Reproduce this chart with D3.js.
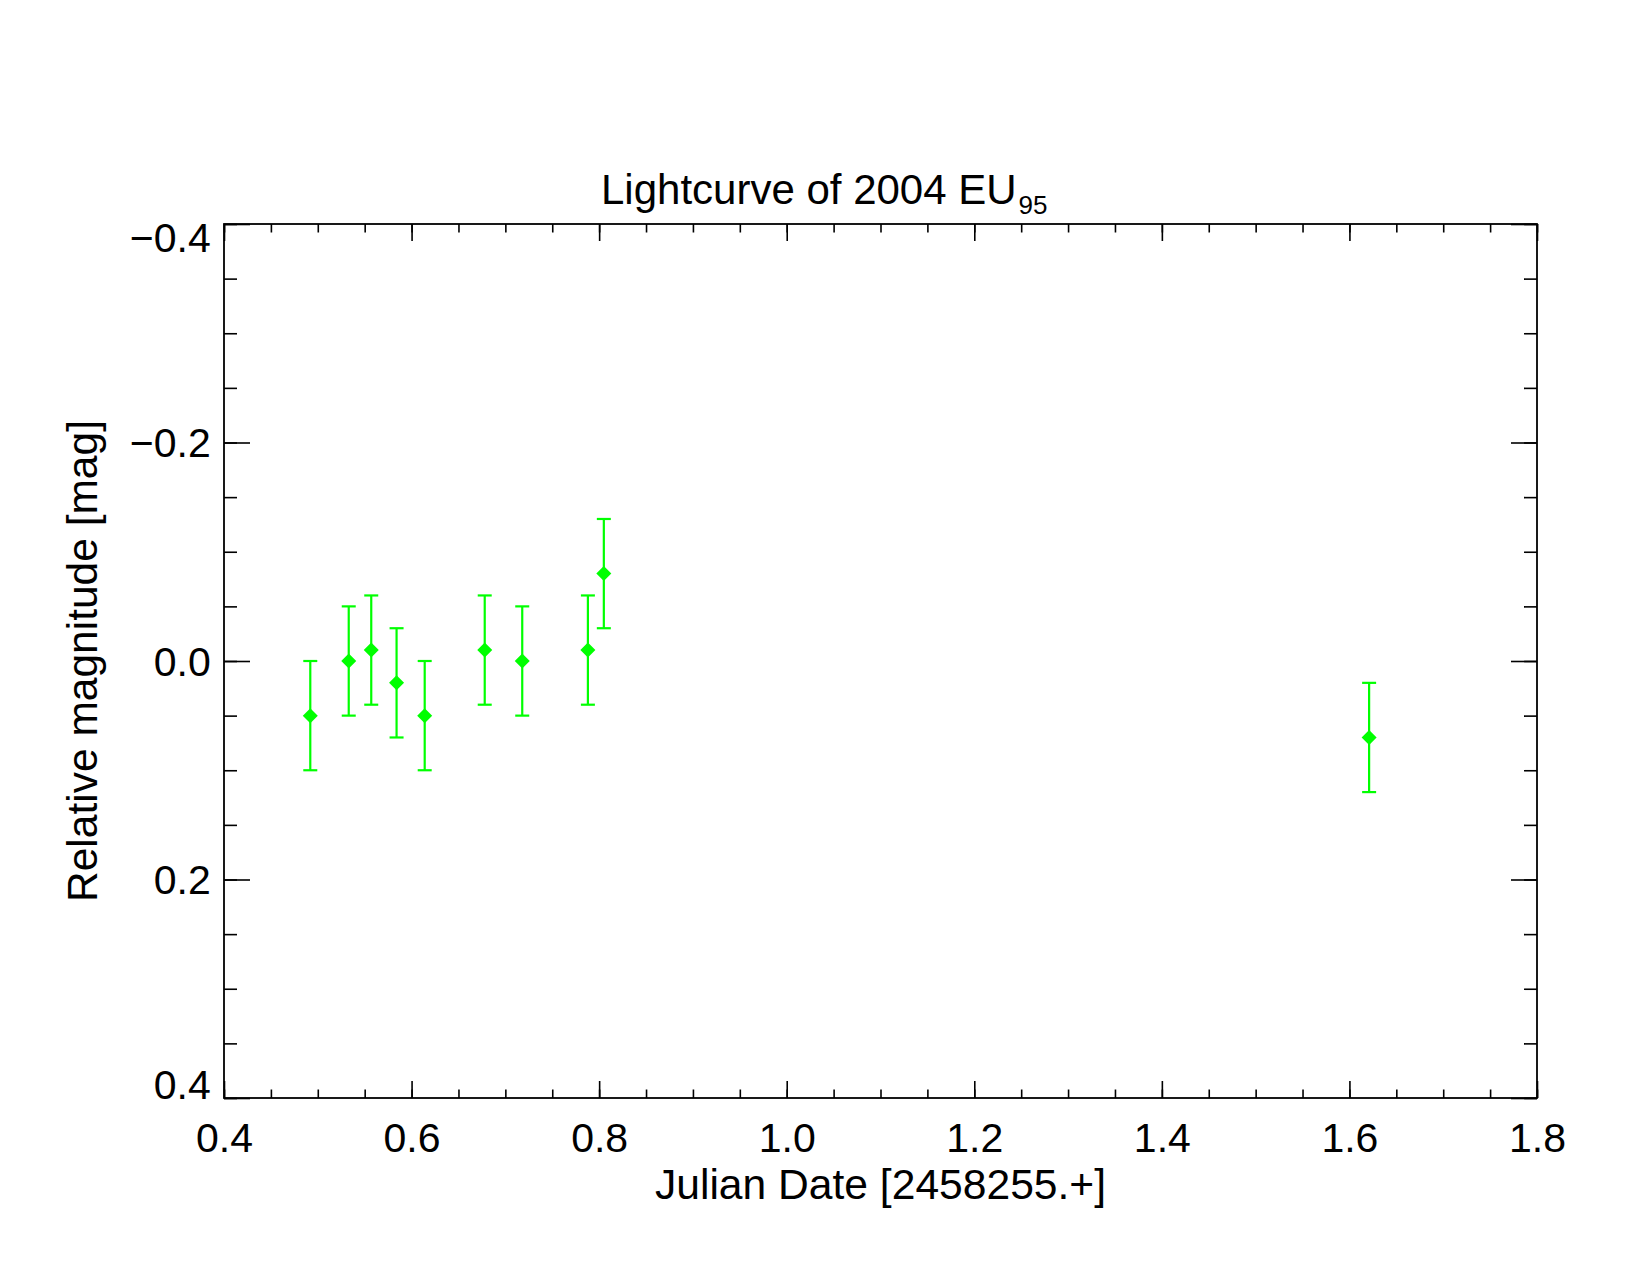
<!DOCTYPE html>
<html>
<head>
<meta charset="utf-8">
<script src="https://cdn.jsdelivr.net/npm/d3@7"></script>
<style>
  body { margin: 0; background: #fff; }
  text { font-family: "Liberation Sans", Arial, Helvetica, sans-serif; fill: #000; }
</style>
</head>
<body>
<div id="my_dataviz"></div>
<script>
// Data
const julianDate = [0.492, 0.533, 0.557, 0.584, 0.614, 0.678, 0.718, 0.788, 0.805, 1.621];
const relMag     = [0.05, 0.00, -0.01, 0.02, 0.05, -0.01, 0.00, -0.01, -0.08, 0.07];
const magErr     = [0.05, 0.05, 0.05, 0.05, 0.05, 0.05, 0.05, 0.05, 0.05, 0.05];

const xMajorTicks = [0.4, 0.6, 0.8, 1.0, 1.2, 1.4, 1.6, 1.8];
const xMinorTicks = d3.range(0, 29).map(i => 0.4 + i * 0.05);
const yMajorTicks = [-0.4, -0.2, 0.0, 0.2, 0.4];
const yMinorTicks = d3.range(0, 17).map(i => -0.4 + i * 0.05);

const width = 1650, height = 1275;
const margin = { left: 224, right: 113, top: 224, bottom: 177 };
const plotW = width - margin.left - margin.right;
const plotH = height - margin.top - margin.bottom;

const svg = d3.select("#my_dataviz")
  .append("svg")
  .attr("width", width)
  .attr("height", height);

const x = d3.scaleLinear().domain([0.4, 1.8]).range([0, plotW]);
const y = d3.scaleLinear().domain([-0.4, 0.4]).range([0, plotH]);
const fmt = d3.format(".1f");

const g = svg.append("g").attr("transform", `translate(${margin.left},${margin.top})`);

// tick lengths (IDL style: x ticks relative to height, y ticks relative to width)
const xMaj = 17, xMin = 8.5, yMaj = 26, yMin = 13;

function styleAxis(sel) {
  sel.select(".domain").remove();
  sel.selectAll(".tick line").attr("stroke", "#000").attr("stroke-width", 1.6);
}

// bottom axis
g.append("g").attr("transform", `translate(0,${plotH})`)
  .call(d3.axisBottom(x).tickValues(xMinorTicks).tickSize(-xMin).tickFormat(""))
  .call(styleAxis);
const bottom = g.append("g").attr("transform", `translate(0,${plotH})`)
  .call(d3.axisBottom(x).tickValues(xMajorTicks).tickSize(-xMaj).tickFormat(fmt))
  .call(styleAxis);
bottom.selectAll(".tick text")
  .attr("y", 53.7).attr("dy", null)
  .style("font-size", "41px");

// top axis (mirrored, no labels)
g.append("g")
  .call(d3.axisTop(x).tickValues(xMinorTicks).tickSize(-xMin).tickFormat(""))
  .call(styleAxis);
g.append("g")
  .call(d3.axisTop(x).tickValues(xMajorTicks).tickSize(-xMaj).tickFormat(""))
  .call(styleAxis);

// left axis
g.append("g")
  .call(d3.axisLeft(y).tickValues(yMinorTicks).tickSize(-yMin).tickFormat(""))
  .call(styleAxis);
const left = g.append("g")
  .call(d3.axisLeft(y).tickValues(yMajorTicks).tickSize(-yMaj).tickFormat(fmt))
  .call(styleAxis);
left.selectAll(".tick text")
  .attr("x", -13.3)
  .attr("dy", null)
  .attr("y", (d, i) => i === 0 ? 27 : (i === yMajorTicks.length - 1 ? 0 : 14))
  .style("font-size", "41px");

// right axis (mirrored, no labels)
g.append("g").attr("transform", `translate(${plotW},0)`)
  .call(d3.axisRight(y).tickValues(yMinorTicks).tickSize(-yMin).tickFormat(""))
  .call(styleAxis);
g.append("g").attr("transform", `translate(${plotW},0)`)
  .call(d3.axisRight(y).tickValues(yMajorTicks).tickSize(-yMaj).tickFormat(""))
  .call(styleAxis);

// frame
g.append("rect")
  .attr("x", 0).attr("y", 0)
  .attr("width", plotW).attr("height", plotH)
  .attr("fill", "none")
  .attr("stroke", "#000")
  .attr("stroke-width", 1.8);

// data
const points = julianDate.map((d, i) => ({ jd: d, mag: relMag[i], err: magErr[i] }));
const green = "#00ff00";
const capHalf = 7, diamond = 7.5;

const pts = g.append("g").selectAll("g")
  .data(points)
  .join("g");

pts.append("line")
  .attr("x1", d => x(d.jd)).attr("x2", d => x(d.jd))
  .attr("y1", d => y(d.mag - d.err)).attr("y2", d => y(d.mag + d.err))
  .attr("stroke", green).attr("stroke-width", 2.2);

pts.append("line")
  .attr("x1", d => x(d.jd) - capHalf).attr("x2", d => x(d.jd) + capHalf)
  .attr("y1", d => y(d.mag - d.err)).attr("y2", d => y(d.mag - d.err))
  .attr("stroke", green).attr("stroke-width", 2.2);

pts.append("line")
  .attr("x1", d => x(d.jd) - capHalf).attr("x2", d => x(d.jd) + capHalf)
  .attr("y1", d => y(d.mag + d.err)).attr("y2", d => y(d.mag + d.err))
  .attr("stroke", green).attr("stroke-width", 2.2);

pts.append("path")
  .attr("d", d => {
    const cx = x(d.jd), cy = y(d.mag);
    return `M${cx},${cy - diamond}L${cx + diamond},${cy}L${cx},${cy + diamond}L${cx - diamond},${cy}Z`;
  })
  .attr("fill", green);

// title
const title = svg.append("text")
  .attr("x", 601)
  .attr("y", 204)
  .style("font-size", "42px");
title.append("tspan").text("Lightcurve of 2004 EU");
title.append("tspan")
  .attr("dy", 10)
  .attr("dx", 2)
  .style("font-size", "26px")
  .text("95");

// axis titles
svg.append("text")
  .attr("x", margin.left + plotW / 2)
  .attr("y", 1199)
  .attr("text-anchor", "middle")
  .style("font-size", "42.6px")
  .text("Julian Date [2458255.+]");

svg.append("text")
  .attr("transform", `translate(97,${margin.top + plotH / 2}) rotate(-90)`)
  .attr("text-anchor", "middle")
  .style("font-size", "42.5px")
  .text("Relative magnitude [mag]");
</script>
</body>
</html>
